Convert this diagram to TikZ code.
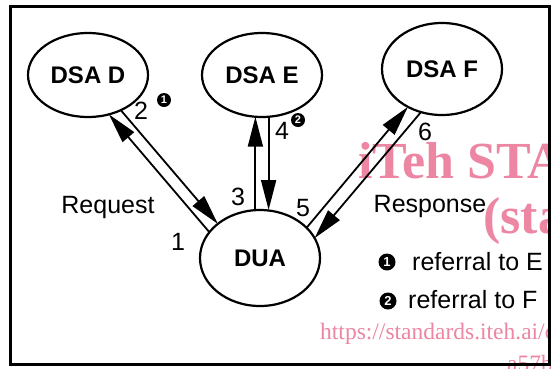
\documentclass[tikz,border=0pt]{standalone}
\usepackage{fontspec}
\setmainfont{Liberation Sans}
\newfontfamily\wmfont{Liberation Serif}
\usetikzlibrary{arrows.meta,shapes.geometric}

\definecolor{wmpink}{RGB}{236,134,162}

\tikzset{
  dsa/.style={ellipse, draw, line width=2.2pt, minimum width=120pt, minimum height=84pt,
    inner sep=0pt, outer sep=0pt, font=\bfseries\fontsize{24}{28}\selectfont},
  flow/.style={line width=1.8pt, -{Triangle[length=30pt,width=15pt]}},
  lbl/.style={inner sep=0pt, font=\fontsize{25}{30}\selectfont},
  bul/.style={circle, fill=black, text=white, inner sep=0pt, minimum size=14pt,
    font=\bfseries\fontsize{11}{11}\selectfont},
  bigbul/.style={bul, minimum size=17pt, font=\bfseries\fontsize{13}{13}\selectfont},
  wm/.style={inner sep=0pt, text=wmpink, anchor=base west}
}

\begin{document}
\begin{tikzpicture}[x=1pt, y=-1pt]
\useasboundingbox (0,0) rectangle (551,368);
\clip (0,0) rectangle (551,368);
\fill[white] (0,0) rectangle (551,368);

% watermark lettering
\node[wm, font=\wmfont\bfseries\fontsize{52}{60}\selectfont] (wm1) at (358,178) {iTeh STA};
\node[wm, font=\wmfont\bfseries\fontsize{52}{60}\selectfont] (wm2) at (483,233) {(sta};
\node[wm, font=\wmfont\fontsize{23.5}{28}\selectfont] (wm3) at (320,339) {https://standards.iteh.ai/c};
\node[wm, font=\wmfont\fontsize{23.5}{28}\selectfont] (wm4) at (507,371) {a57b};

% frame
\draw[line width=2.5pt] (10.5,6.5) rectangle (549.5,364.5);

% agents
\node[dsa] (D) at (88,75) {DSA D};
\node[dsa] (E) at (262,75) {DSA E};
\node[dsa, minimum height=92pt] (F) at (442,69) {DSA F};
\node[dsa, minimum height=96pt] (U) at (260,258) {DUA};

% request / referral to D
\draw[flow] (U.153.9) -- (D.-62.4);
\draw[flow] (D.-47.4) -- (U.141.7);
% chained request to E
\draw[flow] (E.-99.5 |- U.north) -- (E.-99.5);
\draw[flow] (E.-81.8) -- (E.-81.8 |- U.north);
% chained request to F
\draw[flow] (U.33.4) -- (F.-132.1);
\draw[flow] (F.-116.6) -- (U.20.9);

% step numbers
\node[lbl] (n1) at (178,242) {1};
\node[lbl] (n2) at (141,111) {2};
\node[lbl] (n3) at (238,197) {3};
\node[lbl] (n4) at (282,131) {4};
\node[lbl] (n5) at (303,208) {5};
\node[lbl] (n6) at (425,132) {6};
\node[bul] (r1) at (164,100) {1};
\node[bul] (r2) at (298,120) {2};

\node[lbl, anchor=base] (req) at (108,213) {Request};
\node[lbl, anchor=base] (resp) at (430,212) {Response};

% legend
\node[bigbul] (k1) at (387,262) {1};
\node[lbl, anchor=base west] (t1) at (412,270) {referral to E};
\node[bigbul] (k2) at (388,301) {2};
\node[lbl, anchor=base west] (t2) at (408,308) {referral to F};
\end{tikzpicture}
\end{document}
